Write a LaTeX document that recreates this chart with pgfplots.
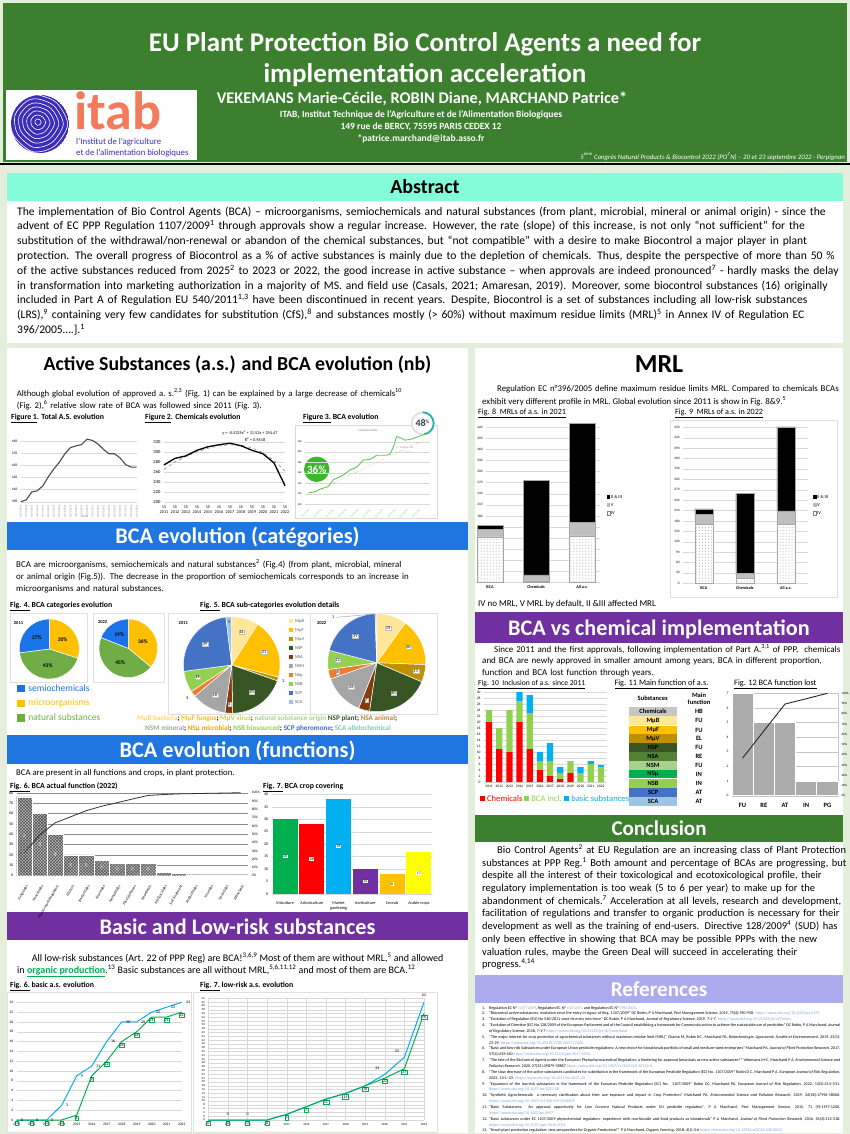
\documentclass[border=0pt]{standalone}
\usepackage{fontspec}
\setmainfont{Carlito}
\usepackage{pgfplots}
\pgfplotsset{compat=1.18}
\usetikzlibrary{patterns}
\setlength{\parindent}{0pt}
\definecolor{pagebg}{HTML}{E3EFDA}
\definecolor{hdr}{HTML}{3C7F2E}
\definecolor{aqua}{HTML}{84FBD9}
\definecolor{bandblue}{HTML}{1F76E0}
\definecolor{bandpurple}{HTML}{7030A0}
\definecolor{lav}{HTML}{ABABEE}
\definecolor{logoblue}{HTML}{3B2DB8}
\definecolor{logoorange}{HTML}{F47A5C}
\definecolor{semio}{HTML}{1A73E8}
\definecolor{micro}{HTML}{FFC000}
\definecolor{natur}{HTML}{70AD47}
\definecolor{cMuB}{HTML}{FFE699}
\definecolor{cMuF}{HTML}{FFC000}
\definecolor{cMuV}{HTML}{BF9000}
\definecolor{cNSP}{HTML}{375623}
\definecolor{cNSA}{HTML}{843C0C}
\definecolor{cNSAt}{HTML}{548235}
\definecolor{cNSM}{HTML}{A5A5A5}
\definecolor{cNSMt}{HTML}{A9D18E}
\definecolor{cNSu}{HTML}{ED7D31}
\definecolor{cNSB}{HTML}{92D050}
\definecolor{cSCP}{HTML}{4472C4}
\definecolor{cSCA}{HTML}{9DC3E6}
\definecolor{xlgreen}{HTML}{00B050}
\definecolor{xlblue}{HTML}{00B0F0}
\definecolor{xlred}{HTML}{FF0000}
\definecolor{xlpurple}{HTML}{7030A0}
\definecolor{xlyellow}{HTML}{FFFF00}
\definecolor{lgreen}{HTML}{92D050}
\definecolor{linkblue}{HTML}{7FA7E0}
\definecolor{gridc}{HTML}{D9D9D9}
\definecolor{bcagreen}{HTML}{5CCB5F}
\definecolor{badgegreen}{HTML}{3DB52E}
\definecolor{tealc}{HTML}{27B3B0}
\newcommand\fs[2]{\fontsize{#1bp}{#2bp}\selectfont}
\newcommand\J[1]{\makebox[\hsize][s]{#1}\par}
\newcommand\Lst[1]{\makebox[\hsize][l]{#1}\par}
\newcommand\sps[1]{\textsuperscript{#1}}
\newcommand\rf[2]{\hangindent=7bp\hangafter=1\makebox[7bp][l]{#1.}#2\par}
\pgfplotsset{
 tinyax/.style={scale only axis, clip=false, axis line style={draw=none}, tick style={draw=none},
   tick label style={font=\fs{4}{4.5}}, /pgf/number format/assume math mode=true,
   /pgf/number format/1000 sep={}, grid style={gridc, line width=0.35bp}},
}
\tikzset{
 lbl/.style={fill=white, inner sep=0.5bp, font=\fs{3.8}{4}},
 pl/.style={fill=white, draw=gray!50, line width=0.2bp, inner sep=0.6bp, font=\fs{4.3}{4.5}},
 pp/.style={font=\bfseries\fs{5.5}{6}},
 po/.style={font=\fs{4.3}{4.5}},
}
% pie: #1 cx, #2 cy (page, y down), #3 r, #4 total, #5 list value/colour/label/radius factor/style
\newcommand\piechart[5]{%
 \begin{scope}[shift={(#1bp,-#2bp)}, x=1bp, y=1bp]
  \gdef\pcum{0}%
  \foreach \pva/\pco/\pla/\prf/\pst in {#5} {%
    \pgfmathsetmacro\paa{90-\pcum/#4*360}%
    \pgfmathsetmacro\pab{90-(\pcum+\pva)/#4*360}%
    \pgfmathsetmacro\pam{(\paa+\pab)/2}%
    \fill[\pco, draw=white, line width=0.5bp] (0,0) -- (\paa:#3) arc[start angle=\paa, end angle=\pab, radius=#3] -- cycle;
    \node[\pst] at (\pam:\prf*#3) {\pla};
    \pgfmathsetmacro\pn{\pcum+\pva}\xdef\pcum{\pn}%
  }
 \end{scope}}
\begin{document}
\begin{tikzpicture}
\useasboundingbox (0,0) rectangle (850bp,-1134bp);
\begin{scope}[x=1bp,y=-1bp]
\fill[pagebg] (0,0) rectangle (850,1134);
% ---------------- header
\fill[hdr] (3,3) rectangle (847,162);
\draw[black, line width=2.5bp] (0,164) -- (850,164);
\node[anchor=base, text=white, font=\bfseries\fs{27}{28}] at (425,51) {EU Plant Protection Bio Control Agents a need for};
\node[anchor=base, text=white, font=\bfseries\fs{27}{28}] at (425,82) {implementation acceleration};
\node[anchor=base, text=white, font=\bfseries\fs{16.3}{17}] at (422,103) {VEKEMANS Marie-Cécile, ROBIN Diane, MARCHAND Patrice*};
\node[anchor=base, text=white, font=\bfseries\fs{9.5}{10}] at (421,117) {ITAB, Institut Technique de l’Agriculture et de l’Alimentation Biologiques};
\node[anchor=base, text=white, font=\bfseries\fs{9.5}{10}] at (421,129) {149 rue de BERCY, 75595 PARIS CEDEX 12};
\node[anchor=base, text=white, font=\bfseries\fs{9.5}{10}] at (421,141) {*patrice.marchand@itab.asso.fr};
\node[anchor=base east, text=white, font=\itshape\fs{6.8}{7}, inner sep=0] at (845,159) {5\sps{ème} Congrès Natural Products \& Biocontrol 2022 (PO\sps{2}N) – 20 et 23 septembre 2022 - Perpignan};
% logo
\fill[white] (6,90) rectangle (197,160);
\begin{scope}
\clip (40,124) circle (29);
\fill[logoblue] (40,124) circle (29);
\foreach \s in {0.15,0.35,0.55,0.75,0.95,1.15,1.35,1.55} {
 \begin{scope}[shift={(38,122)}, scale=\s]
 \draw[white, line width=0.6bp] plot[smooth cycle] coordinates {(0,-20)(14,-14)(22,2)(12,18)(-4,22)(-18,10)(-20,-6)(-10,-18)};
 \end{scope}}
\end{scope}
\node[anchor=base west, text=logoorange, font=\bfseries\fs{54}{54}, inner sep=0] at (74,129) {itab};
\node[anchor=base west, text=logoblue, font=\fs{8.8}{9}, inner sep=0] at (76,144.5) {l’Institut de l’agriculture};
\node[anchor=base west, text=logoblue, font=\fs{8.8}{9}, inner sep=0] at (76,155.5) {et de l’alimentation biologiques};
% ---------------- abstract
\fill[aqua] (7,173) rectangle (843,201);
\fill[white] (7,201) rectangle (843,343);
\node[font=\bfseries\fs{20}{22}] at (425,187) {Abstract};
\node[anchor=north west, inner sep=0, text width=819bp, font=\fs{11.6}{14.8}] at (17,206.5) {%
\J{The implementation of Bio Control Agents (BCA) – microorganisms, semiochemicals and natural substances (from plant, microbial, mineral or animal origin) - since the}
\J{advent of EC PPP Regulation 1107/2009\sps{1} through approvals show a regular increase. However, the rate (slope) of this increase, is not only “not sufficient” for the}
\J{substitution of the withdrawal/non-renewal or abandon of the chemical substances, but “not compatible” with a desire to make Biocontrol a major player in plant}
\J{protection. The overall progress of Biocontrol as a \% of active substances is mainly due to the depletion of chemicals. Thus, despite the perspective of more than 50 \%}
\J{of the active substances reduced from 2025\sps{2} to 2023 or 2022, the good increase in active substance – when approvals are indeed pronounced\sps{7} - hardly masks the delay}
\J{in transformation into marketing authorization in a majority of MS. and field use (Casals, 2021; Amaresan, 2019). Moreover, some biocontrol substances (16) originally}
\J{included in Part A of Regulation EU 540/2011\sps{1,3} have been discontinued in recent years. Despite, Biocontrol is a set of substances including all low-risk substances}
\J{(LRS),\sps{9} containing very few candidates for substitution (CfS),\sps{8} and substances mostly (> 60\%) without maximum residue limits (MRL)\sps{5} in Annex IV of Regulation EC}
\Lst{396/2005….].\sps{1}}};
% ---------------- panels
\fill[white] (7,348) rectangle (468,1133);
\fill[white] (475,348) rectangle (843,1133);
% ======== LEFT COLUMN
\node[anchor=base, font=\bfseries\fs{19.8}{23}] at (237.5,370) {Active Substances (a.s.) and BCA evolution (nb)};
\node[anchor=north west, inner sep=0, text width=408bp, font=\fs{8.7}{12}] at (16.7,388.5) {%
\J{Although global evolution of approved a.\ s.\sps{2,3} (Fig.\ 1) can be explained by a large decrease of chemicals\sps{10}}
\Lst{(Fig.\ 2),\sps{6} relative slow rate of BCA was followed since 2011 (Fig.\ 3).}};
\node[anchor=base west, font=\bfseries\fs{7.8}{8}, inner sep=0] at (11,419) {\underline{Figure 1}. Total A.S. evolution};
\node[anchor=base west, font=\bfseries\fs{7.8}{8}, inner sep=0] at (145,419) {\underline{Figure 2}. Chemicals evolution};
\node[anchor=base west, font=\bfseries\fs{7.8}{8}, inner sep=0] at (303,419) {\underline{Figure 3.} BCA evolution};
\node[font=\fs{3}{3}, gray] at (85,516.5) {Titre};
\node[font=\fs{4.3}{5}] at (250,433) {y = -0.5329x\sps{2} + 11.52x + 254.47};
\node[font=\fs{4.3}{5}] at (255,439.5) {R\sps{2} = 0.9618};
\draw[gray!30, line width=0.4bp] (295,425) rectangle (437,518);
\node[font=\fs{3}{3}, gray] at (368,430) {Sub Biocontrôle};
\node[font=\fs{2.4}{2.6}, gray, align=center] at (405,450) {y = 0.0062x - 254\\R\sps{2} = 0.9640};
% section 2
\fill[bandblue] (7,522) rectangle (468,550);
\node[anchor=base, text=white, font=\bfseries\fs{22.3}{24}] at (237.5,543.5) {BCA evolution (catégories)};
\node[anchor=north west, inner sep=0, text width=420bp, font=\fs{8.9}{12}] at (16,559.5) {%
\J{BCA are microorganisms, semiochemicals and natural substances\sps{2} (Fig.4) (from plant, microbial, mineral}
\J{or animal origin (Fig.5)). The decrease in the proportion of semiochemicals corresponds to an increase in}
\Lst{microorganisms and natural substances.}};
\node[anchor=base west, font=\bfseries\fs{7.8}{8}, inner sep=0] at (10,607) {\underline{Fig. 4.} BCA categories evolution};
\node[anchor=base west, font=\bfseries\fs{7.8}{8}, inner sep=0] at (200,607) {\underline{Fig. 5.} BCA sub-categories evolution details};
\draw[gray!25, line width=0.4bp] (10,612.7) rectangle (87.3,681.7);
\draw[gray!25, line width=0.4bp] (93.3,612.7) rectangle (164.3,681.7);
\draw[gray!25, line width=0.4bp] (168.3,612.7) rectangle (310,714);
\draw[gray!25, line width=0.4bp] (310,612.7) rectangle (436.7,714);
\node[font=\bfseries\fs{4.5}{5}] at (18.5,622.7) {2011};
\node[font=\bfseries\fs{4.5}{5}] at (102.7,621.7) {2022};
\node[font=\bfseries\fs{4.5}{5}] at (183.3,623.3) {2011};
\node[font=\bfseries\fs{4.5}{5}] at (321.7,623.3) {2022};
\foreach \nm/\cc/\yy in {semiochemicals/semio/688.3, microorganisms/micro/703.3, natural substances/natur/717.7} {
 \fill[\cc] (17.3,\yy-3.8) rectangle (25,\yy+3.8);
 \node[anchor=west, text=\cc, font=\fs{9.5}{10}, inner sep=0] at (28.3,\yy) {\nm};}
\foreach \nm/\cc/\yy in {MµB/cMuB/621, MµF/cMuF/630, MµV/cMuV/639, NSP/cNSP/648, NSA/cNSA/657, NSM/cNSM/666, NSµ/cNSu/675, NSB/cNSB/684, SCP/cSCP/693, SCA/cSCA/702} {
 \fill[\cc] (288.5,\yy-2) rectangle (292.5,\yy+2);
 \node[anchor=west, font=\fs{4.5}{5}, inner sep=0, text=gray!70!black] at (295,\yy) {\nm};}
\node[anchor=base west, inner sep=0, font=\bfseries\fs{7.2}{8}] at (137,720) {\textcolor[HTML]{FFD966}{MµB bacteria}; \textcolor{cMuF}{MµF fungus}; \textcolor[HTML]{C9CC55}{MµV virus}; \textcolor[HTML]{A9D18E}{natural substance origin} \textcolor{cNSP}{NSP plant}; \textcolor[HTML]{C0843C}{NSA animal};};
\node[anchor=base west, inner sep=0, font=\bfseries\fs{7.2}{8}] at (145,730.5) {\textcolor{cNSM}{NSM mineral}; \textcolor[HTML]{F4A300}{NSµ microbial}; \textcolor{cNSB}{NSB biosourced}; \textcolor[HTML]{2F6FE8}{SCP pheromone}; \textcolor[HTML]{6FD2B8}{SCA allelochemical}};
% section 3
\fill[bandblue] (7,735) rectangle (468,764);
\node[anchor=base, text=white, font=\bfseries\fs{22.3}{24}] at (237.5,757) {BCA evolution (functions)};
\node[anchor=base west, inner sep=0, font=\fs{8.7}{12}] at (16,775) {BCA are present in all functions and crops, in plant protection.};
\node[anchor=base west, font=\bfseries\fs{7.8}{8}, inner sep=0] at (10,788) {\underline{Fig. 6.} BCA actual function (2022)};
\node[anchor=base west, font=\bfseries\fs{7.8}{8}, inner sep=0] at (263,788) {\underline{Fig. 7.} BCA crop covering};
% section 4
\fill[bandpurple] (7,912) rectangle (468,940);
\node[anchor=base, text=white, font=\bfseries\fs{22.3}{24}] at (237.5,934) {Basic and Low-risk substances};
\node[anchor=base west, inner sep=0, font=\fs{10}{12}] at (31.7,961) {All low-risk substances (Art. 22 of PPP Reg) are BCA!\sps{3,6,9} Most of them are without MRL,\sps{5} and allowed};
\node[anchor=base west, inner sep=0, font=\fs{10}{12}] at (17,973) {in \textcolor{xlgreen}{\bfseries\underline{organic production}}.\sps{13} Basic substances are all without MRL,\sps{5,6,11,12} and most of them are BCA.\sps{12}};
\node[anchor=base west, font=\bfseries\fs{7.8}{8}, inner sep=0] at (10,987) {\underline{Fig. 6.} basic a.s. evolution};
\node[anchor=base west, font=\bfseries\fs{7.8}{8}, inner sep=0] at (200,987) {\underline{Fig. 7.} low-risk a.s. evolution};
\draw[gray!25, line width=0.4bp] (7.3,992.3) rectangle (190.7,1131.7);
\draw[gray!25, line width=0.4bp] (192.7,992.3) rectangle (436.7,1131.7);
% ======== RIGHT COLUMN
\node[anchor=base, font=\bfseries\fs{26}{28}] at (659,372) {MRL};
\node[anchor=north west, inner sep=0, text width=341bp, font=\fs{8.8}{12}] at (497,385.5) {%
\J{Regulation EC n°396/2005 define maximum residue limits MRL. Compared to chemicals BCAs}};
\node[anchor=base west, inner sep=0, font=\fs{8.8}{12}] at (482,404.5) {exhibit very different profile in MRL. Global evolution since 2011 is show in Fig. 8\&9.\sps{5}};
\node[anchor=base west, inner sep=0, font=\fs{8.1}{9}] at (478,414) {\underline{Fig. 8\ \ MRLs of a.s. in 2021}};
\node[anchor=base west, inner sep=0, font=\fs{8.1}{9}] at (675,414) {\underline{Fig. 9\ \ MRLs of a.s. in 2022}};
\draw[gray!25, line width=0.4bp] (670,420) rectangle (837,597);
\foreach \fx in {606.7,813} {
 \fill[black] (\fx,495) rectangle (\fx+3.5,498.5);
 \node[anchor=west, inner sep=0, font=\fs{4.6}{5}] at (\fx+4,496.7) {II \& III};
 \fill[gray!55] (\fx,503.2) rectangle (\fx+3.5,506.7);
 \node[anchor=west, inner sep=0, font=\fs{4.6}{5}] at (\fx+4,505) {V};
 \draw[gray, line width=0.3bp] (\fx,511.2) rectangle (\fx+3.5,514.7);
 \node[anchor=west, inner sep=0, font=\fs{4.6}{5}] at (\fx+4,513) {IV};}
\node[anchor=base west, inner sep=0, font=\fs{9}{10}] at (478,606) {IV no MRL, V MRL by default, II \&III affected MRL};
\fill[bandpurple] (475,612) rectangle (843,643);
\node[anchor=base, text=white, font=\bfseries\fs{22.2}{24}] at (659,635) {BCA vs chemical implementation};
\node[anchor=north west, inner sep=0, text width=356bp, font=\fs{9}{11.8}] at (482,644) {%
\J{\hspace*{12bp}Since 2011 and the first approvals, following implementation of Part A.\sps{3,1} of PPP,\ \ chemicals}
\J{and BCA are newly approved in smaller amount among years, BCA in different proportion,}
\Lst{function and BCA lost function through years.}};
\node[anchor=base west, inner sep=0, font=\fs{7.6}{9}] at (478,685.5) {\underline{Fig. 10\ \ Inclusion of a.s. since 2011}};
\node[anchor=base west, inner sep=0, font=\fs{8.3}{9}] at (614.3,685.5) {\underline{Fig. 11 Main function of a.s.}};
\node[anchor=base west, inner sep=0, font=\fs{8.3}{9}] at (734,685.5) {\underline{Fig. 12 BCA function lost}};
\node[anchor=base west, inner sep=0, font=\fs{8.6}{9}] at (480,801) {\textcolor{xlred}{\rule{5bp}{5bp} Chemicals} \textcolor{lgreen}{\rule{5bp}{5bp} BCA incl.} \textcolor{xlblue}{\rule{5bp}{5bp} basic substances}};
% Fig 11 table
\node[font=\bfseries\fs{6.5}{7}] at (652.7,698.3) {Substances};
\node[font=\bfseries\fs{6.5}{7.5}, align=center] at (699,698.5) {Main\\function};
\foreach \lab/\col/\fn/\y in {Chemicals/gray!45/HB/711.7, MµB/cMuB/FU/720.7, MµF/cMuF/FU/730, MµV/cMuV/EL/738.7, NSP/cNSP/FU/747.3, NSA/cNSAt/RE/756.3, NSM/cNSMt/FU/765.3, NSµ/xlgreen/IN/774, NSB/cNSB/IN/783.3, SCP/cSCP/AT/792.3, SCA/cSCA/AT/801.3} {
 \fill[\col] (629,\y-4.4) rectangle (677,\y+4.4);
 \node[font=\bfseries\fs{6.5}{7}] at (653,\y) {\lab};
 \node[font=\bfseries\fs{6.5}{7}] at (699,\y) {\fn};}
% conclusion
\fill[hdr] (475,815) rectangle (843,842);
\node[anchor=base, text=white, font=\bfseries\fs{21}{23}] at (659,835.5) {Conclusion};
\node[anchor=north west, inner sep=0, text width=356bp, font=\fs{10.5}{12.7}] at (482,844.5) {%
\J{\hspace*{15bp}Bio Control Agents\sps{2} at EU Regulation are an increasing class of Plant Protection}
\J{substances at PPP Reg.\sps{1} Both amount and percentage of BCAs are progressing, but}
\J{despite all the interest of their toxicological and ecotoxicological profile, their}
\J{regulatory implementation is too weak (5 to 6 per year) to make up for the}
\J{abandonment of chemicals.\sps{7} Acceleration at all levels, research and development,}
\J{facilitation of regulations and transfer to organic production is necessary for their}
\J{development as well as the training of end-users. Directive 128/2009\sps{4} (SUD) has}
\J{only been effective in showing that BCA may be possible PPPs with the new}
\J{valuation rules, maybe the Green Deal will succeed in accelerating their}
\Lst{progress.\sps{4,14}}};
% references
\fill[lav] (475,975) rectangle (843,1003);
\node[anchor=base, text=white, font=\bfseries\fs{21.2}{23}] at (659,996) {References};
\node[anchor=north west, inner sep=0, text width=358bp, font=\fs{4.1}{5.85}, align=justify] at (482,1006) {\sloppy
\rf{1}{Regulation EC N° \textcolor{linkblue}{1107/2009}, Regulation EC N° \textcolor{linkblue}{540/2011} and Regulation EC N° \textcolor{linkblue}{396/2005}.}
\rf{2}{“Biocontrol active substances: evolution since the entry in vigour of Reg. 1107/2009” DC Robin, P A Marchand, \textit{Pest Management Science}, 2019, 75(4):950-958. \textcolor{linkblue}{https://www.doi.org/10.1002/ps.5199}}
\rf{3}{“Evolution of Regulation (EU) No 540/2011 since its entry into force” DC Robin, P A Marchand, \textit{Journal of Regulatory Science}, 2019, 7:1-7. \textcolor{linkblue}{https://www.doi.org/10.21423/jrs-v07robin}}
\rf{4}{“Evolution of Directive (EC) No 128/2009 of the European Parliament and of the Council establishing a framework for Community action to achieve the sustainable use of pesticides” DC Robin, P A Marchand, \textit{Journal of Regulatory Science}, 2018, 7:1-7 \textcolor{linkblue}{https://www.doi.org/10.21423/jrs-v07marchand}}
\rf{5}{“The major interest for crop protection of agrochemical substances without maximum residue limit (MRL)” Charon M, Robin DC , Marchand PA, \textit{Biotechnologie, Agronomie, Société et Environnement}, 2019, 23(1): 22-29. \textcolor{linkblue}{https://www.doi.org/10.25518/1780-4507.17660}}
\rf{6}{“Basic and low-risk Substances under European Union pesticide regulations: A new choice for biorationals portfolio of small and medium-sized enterprises” Marchand PA, \textit{Journal of Plant Protection Research}, 2017, 57(4):433-440 \textcolor{linkblue}{https://www.doi.org/10.1515/jppr-2017-0056}}
\rf{7}{“The fate of the BioControl Agents under the European Phytopharmaceutical Regulation: a hindering for approval botanicals as new active substances?” Vekemans M-C, Marchand P A, \textit{Environmental Science and Pollution Research}, 2020, 27(32):39879-39887 \textcolor{linkblue}{https://www.doi.org/10.1007/s11356-020-10114-6}}
\rf{8}{“The slow decrease of the active substances candidates for substitution in the framework of the European Pesticide Regulation (EC) No. 1107/2009” Robin D C, Marchand P A, \textit{European Journal of Risk Regulation}, 2022, 13:1–23. \textcolor{linkblue}{https://www.doi.org/10.1017/err.2021.20}}
\rf{9}{“Expansion of the low-risk substances in the framework of the European Pesticide Regulation (EC) No. 1107/2009” Robin DC, Marchand PA, \textit{European Journal of Risk Regulation}, 2022, 13(3):514–531. \textcolor{linkblue}{https://www.doi.org/10.1017/err.2021.58}}
\rf{10}{“Synthetic Agrochemicals: a necessary clarification about their use exposure and impact in Crop Protection” Marchand PA, \textit{Environmental Science and Pollution Research}, 2019, 26(18):17996-18000. \textcolor{linkblue}{https://www.doi.org/10.1007/s11356-019-05368-8}}
\rf{11}{“Basic Substances: An approval opportunity for Low Concern Natural Products under EU pesticide regulation”, P A Marchand, \textit{Pest Management Science}, 2015, 71 (9):1197-1200. \textcolor{linkblue}{https://www.doi.org/10.1002/ps.3997}}
\rf{12}{“Basic substances under EC 1107/2009 phytochemical regulation: experience with non-biocide and food products as biorationals” P A Marchand, \textit{Journal of Plant Protection Research}, 2016, 56(3):312-318. \textcolor{linkblue}{https://www.doi.org/10.1515/jppr-2016-0041}}
\rf{13}{“Novel plant protection regulation: new perspectives for Organic Production?” P A Marchand, \textit{Organic Farming}, 2018, 4(1):3-6 \textcolor{linkblue}{https://www.doi.org/10.12924/of2018.04010003}}};
\end{scope}

% ================= PIES
\piechart{49.3}{649}{30}{100}{30/micro/30\%/0.55/pp, 43/natur/43\%/0.55/pp, 27/semio/27\%/0.55/pp}
\piechart{128.3}{648.3}{29.3}{100}{36/micro/36\%/0.55/pp, 45/natur/45\%/0.55/pp, 19/semio/19\%/0.55/pp}
\piechart{231.7}{665}{48.3}{155}{14/cMuB/14/0.72/pl, 31/cMuF/31/0.72/pl, 2/cMuV/2/1.12/po, 30/cNSP/30/0.7/pl, 4/cNSA/4/0.82/pl, 18/cNSM/18/0.72/pl, 3/cNSu/3/1.15/po, 11/cNSB/11/0.75/pl, 39/cSCP/39/0.7/pl, 3/cSCA/3/0.9/po}
\piechart{376.7}{662.7}{49}{191}{19/cMuB/19/0.75/pl, 30/cMuF/30/0.72/pl, 11/cMuV/11/0.82/pl, 40/cNSP/40/0.7/pl, 7/cNSA/7/0.8/pl, 26/cNSM/26/0.72/pl, 6/cNSu/6/0.82/pl, 12/cNSB/12/0.8/pl, 39/cSCP/39/0.7/pl, 1/cSCA/{}/1/po}
\begin{scope}[x=1bp,y=-1bp]
\draw[gray, line width=0.3bp] (336,617.3) -- (375.5,614);
\node[po] at (333.3,617.3) {1};
% badges
\fill[badgegreen] (316.7,469.3) circle (12.7);
\node[text=white, font=\bfseries\fs{11}{12}] at (316.7,469.5) {36\%};
\fill[white] (422.7,423.3) circle (12.5);
\draw[gray!25, line width=1.8bp] (422.7,423.3) circle (11);
\end{scope}
\begin{scope}[x=1bp,y=1bp]
\draw[tealc, line width=1.8bp] (422.7,-412.3) arc[start angle=90, end angle=-82.8, radius=11];
\end{scope}
\begin{scope}[x=1bp,y=-1bp]
\node[text=gray!50!black, font=\bfseries\fs{10}{11}] at (422.7,423.5) {48\textsuperscript{\fs{5}{5}\%}};
\end{scope}

% ================= FIG 1
\begin{axis}[tinyax, at={(20.7bp,-441bp)}, anchor=north west, width=116bp, height=60.7bp,
 xmin=1, xmax=22, ymin=398, ymax=498, ytick={398,418,...,498}, ymajorgrids,
 xtick={1,...,22}, xticklabel={15/01/2011}, xticklabel style={rotate=90, anchor=east, font=\fs{2.6}{3}, gray},
 yticklabel style={font=\fs{3.5}{4}}]
\addplot[line width=1.1bp, black!70] coordinates {(1,398)(2,401)(3,414)(4,416)(5,424)(6,439)(7,452)(8,463)(9,477)(10,487)(11,490)(12,492)(13,501)(14,499)(15,493)(16,484)(17,477)(18,477)(19,470)(20,459)(21,455)(22,455)};
\end{axis}
% ================= FIG 2
\begin{axis}[tinyax, at={(164bp,-441.7bp)}, anchor=north west, width=121bp, height=60.6bp,
 xmin=2011, xmax=2022, ymin=200, ymax=320, ytick={200,220,...,320}, ymajorgrids,
 xtick={2011,...,2022}, xticklabels={{15\\2011},{15\\2012},{15\\2013},{15\\2014},{15\\2015},{15\\2016},{15\\2017},{15\\2018},{15\\2019},{15\\2020},{15\\2021},{15\\2022}},
 xticklabel style={align=center, font=\fs{4.2}{5.2}}, yticklabel style={font=\fs{4.6}{5}}]
\addplot[dashed, gray, line width=0.6bp] coordinates {(2011,265)(2012,280)(2013,291)(2014,300)(2015,307)(2016,312)(2017,314)(2018,313)(2019,308)(2020,298)(2021,283)(2022,262)};
\addplot[black, line width=1.3bp] coordinates {(2011,274)(2012,287)(2013,292)(2014,303)(2015,310)(2016,314)(2017,317)(2018,312)(2019,303)(2020,296)(2021,278)(2022,233)};
\end{axis}
% ================= FIG 3
\begin{axis}[tinyax, at={(305bp,-441.7bp)}, anchor=north west, width=125bp, height=62.6bp,
 xmin=915, xmax=1290, ymin=100, ymax=220, ytick={100,120,...,220}, ymajorgrids,
 xtick={925,962,...,1280}, xticklabel={01/01/2015}, xticklabel style={rotate=45, anchor=north east, font=\fs{2.2}{2.4}, bcagreen},
 yticklabel style={font=\fs{2.6}{3}}]
\addplot[orange!70, dotted, line width=0.6bp] coordinates {(925,118)(1280,226)};
\addplot[bcagreen, line width=0.9bp] coordinates {(925,122)(945,124)(960,129)(985,134)(1000,147)(1030,156)(1050,166)(1070,171)(1090,185)(1110,186)(1130,194)(1160,194)(1170,196)(1180,210)(1190,230)(1200,228)(1215,223)(1235,225)(1255,230)(1280,235)};
\end{axis}
% ================= FIG 6 functions
\begin{axis}[tinyax, at={(16.7bp,-792.7bp)}, anchor=north west, width=231.6bp, height=83bp,
 ymin=0, ymax=80, ytick={0,10,...,80}, ymajorgrids, grid style={black!45, line width=0.4bp},
 xmin=0.5, xmax=15.5, xtick={1,...,15},
 xticklabels={Fungicides,Insecticides,Plant Growth Regulators,Elicitors,Bactericides,Acaricides,Nematicides,Plant defences,Repellents,Molluscicides,Soil treatment,Rodenticides,Virucides,Herbicides,Attractants},
 xticklabel style={rotate=60, anchor=north east, font=\fs{3.8}{4}},
 ybar, bar width=1, bar shift=0pt]
\addplot[fill=gray!55, draw=white, line width=0.3bp, postaction={pattern=crosshatch, pattern color=black!70}] coordinates {(1,76)(2,60)(3,40)(4,20)(5,20)(6,15)(7,12)(8,12)(9,12)(10,3)(11,2)(12,1)(13,1)(14,1)(15,1)};
\foreach \i/\v in {1/76,2/60,3/40,4/20,5/20,6/15,7/12,8/12,9/12} {\edef\tmp{\noexpand\node[rotate=90, font=\noexpand\fs{3.8}{4}, text=white] at (axis cs:\i,\v/2) {\v};}\tmp}
\end{axis}
\begin{axis}[tinyax, at={(16.7bp,-792.7bp)}, anchor=north west, width=231.6bp, height=83bp,
 ymin=0, ymax=100, ytick={0,10,...,100}, yticklabel={\pgfmathprintnumber{\tick}\%}, yticklabel pos=right,
 xmin=0.5, xmax=15.5, hide x axis, yticklabel style={font=\fs{3.6}{4}}]
\addplot[black!80, line width=0.8bp] coordinates {(1,27.5)(2,49.3)(3,63.8)(4,71.0)(5,78.3)(6,83.7)(7,88.0)(8,92.4)(9,96.7)(10,97.8)(11,98.6)(12,98.9)(13,99.3)(14,99.6)(15,100)};
\end{axis}
% ================= FIG 7 crops
\begin{axis}[tinyax, at={(271.7bp,-794.3bp)}, anchor=north west, width=160.6bp, height=99.7bp,
 ymin=0, ymax=40, ytick={0,5,...,40}, ymajorgrids,
 xmin=0.5, xmax=6.5, xtick={1,...,6}, xticklabels={Viticulture,Arboriculture,{Market\\gardening},horticulture,Cereals,Arable crops},
 xticklabel style={align=center, font=\fs{4.2}{5}, anchor=north}, ybar, bar width=0.94, bar shift=0pt]
\addplot[fill=xlgreen, draw=none] coordinates {(1,30)};
\addplot[fill=xlred, draw=none] coordinates {(2,28)};
\addplot[fill=xlblue, draw=none] coordinates {(3,38)};
\addplot[fill=xlpurple, draw=none] coordinates {(4,10)};
\addplot[fill=micro, draw=none] coordinates {(5,8)};
\addplot[fill=xlyellow, draw=none] coordinates {(6,17)};
\node[lbl] at (axis cs:1,15) {30};
\node[lbl] at (axis cs:2,14) {28};
\node[lbl] at (axis cs:3,19) {38};
\node[lbl] at (axis cs:4,5) {10};
\node[lbl] at (axis cs:5,4) {8};
\node[lbl] at (axis cs:6,8.5) {17};
\end{axis}
% ================= basic a.s.
\begin{axis}[tinyax, at={(16.7bp,-1002.3bp)}, anchor=north west, width=165bp, height=117.7bp,
 xmin=2011, xmax=2022, ymin=0, ymax=24, ytick={0,2,...,24}, xtick={2011,...,2022}, ymajorgrids,
 tick label style={font=\fs{3.6}{4}}]
\addplot[xlblue, line width=1bp, nodes near coords, every node near coord/.append style={font=\fs{4}{4}, anchor=west, text=black, xshift=0.5bp}] coordinates {(2011,0)(2012,0)(2013,0)(2014,3)(2015,9)(2016,11)(2017,16)(2018,20)(2019,20)(2020,22)(2021,23)(2022,24)};
\addplot[xlgreen, line width=1bp, nodes near coords, every node near coord/.append style={font=\fs{4}{4}, anchor=north, text=black, fill=white, draw=xlgreen, line width=0.5bp, inner sep=0.8bp, yshift=-1bp}] coordinates {(2011,0)(2012,0)(2013,0)(2014,0)(2015,1)(2016,9)(2017,12)(2018,16)(2019,18)(2020,21)(2021,21)(2022,22)};
\end{axis}
% ================= low-risk a.s.
\begin{axis}[tinyax, at={(208.3bp,-998.3bp)}, anchor=north west, width=215.7bp, height=121.7bp,
 xmin=2011, xmax=2022, ymin=0, ymax=64, ytick={0,2,...,64}, xtick={2011,...,2022}, ymajorgrids, xmajorgrids, minor x tick num=3, xminorgrids,
 minor grid style={gridc!60, line width=0.3bp}, tick label style={font=\fs{3}{3.2}}]
\addplot[xlblue, line width=1bp] coordinates {(2011,0)(2012,0)(2013,0)(2014,0)(2015,3)(2016,7)(2017,11)(2018,14)(2019,18)(2020,24)(2021,33)(2022,62)};
\addplot[xlgreen, line width=1bp, nodes near coords, every node near coord/.append style={font=\fs{4}{4}, anchor=north, text=black, fill=white, draw=xlgreen, line width=0.5bp, inner sep=0.8bp, yshift=-1bp}] coordinates {(2011,0)(2012,0)(2013,0)(2014,0)(2015,3)(2016,7)(2017,11)(2018,14)(2019,18)(2020,22)(2021,27)(2022,56)};
\node[font=\fs{4}{4}] at (axis cs:2012,3) {0};
\node[font=\fs{4}{4}] at (axis cs:2013,3) {0};
\node[font=\fs{4}{4}, anchor=east] at (axis cs:2019.9,27) {24};
\node[font=\fs{4}{4}, anchor=east] at (axis cs:2020.9,36) {33};
\node[font=\fs{4}{4}, anchor=south] at (axis cs:2022,63) {62};
\end{axis}
% ================= FIG 8
\begin{axis}[tinyax, at={(486bp,-427.3bp)}, anchor=north west, width=114bp, height=155bp,
 ybar stacked, bar width=0.56, xmin=0.913, xmax=3.39, ymin=0, ymax=420, ytick={0,30,...,420}, ymajorgrids,
 xtick={1,2,3}, xticklabels={BCA,Chemicals,All a.s.}, xticklabel style={font=\bfseries\fs{4.2}{5}}, yticklabel style={font=\fs{3.4}{4}}]
\addplot[fill=white, draw=gray!70, line width=0.3bp, postaction={pattern=dots, pattern color=gray!80}] coordinates {(1,123)(2,4)(3,126)};
\addplot[fill=gray!50, draw=gray!70, line width=0.3bp] coordinates {(1,20)(2,16)(3,36)};
\addplot[fill=black, draw=gray!70, line width=0.3bp] coordinates {(1,11)(2,257)(3,268)};
\node[lbl] at (axis cs:1,61) {123}; \node[lbl] at (axis cs:1,133) {20}; \node[lbl] at (axis cs:1,148.5) {11};
\node[lbl] at (axis cs:2,12) {16}; \node[lbl] at (axis cs:2,148) {257};
\node[lbl] at (axis cs:3,63) {126}; \node[lbl] at (axis cs:3,144) {36}; \node[lbl] at (axis cs:3,296) {268};
\end{axis}
% ================= FIG 9
\begin{axis}[tinyax, at={(683bp,-427.3bp)}, anchor=north west, width=125bp, height=156bp,
 ybar stacked, bar width=0.44, xmin=0.49, xmax=3.54, ymin=0, ymax=450, ytick={0,30,...,450}, ymajorgrids,
 xtick={1,2,3}, xticklabels={BCA,Chemicals,All a.s.}, xticklabel style={font=\bfseries\fs{4.2}{5}}, yticklabel style={font=\fs{3.4}{4}}]
\addplot[fill=white, draw=gray!70, line width=0.3bp, postaction={pattern=dots, pattern color=gray!80}] coordinates {(1,170)(2,15)(3,171)};
\addplot[fill=gray!50, draw=gray!70, line width=0.3bp] coordinates {(1,29)(2,14)(3,38)};
\addplot[fill=black, draw=gray!70, line width=0.3bp] coordinates {(1,16)(2,231)(3,242)};
\node[lbl] at (axis cs:1,85) {170}; \node[lbl] at (axis cs:1,184.5) {29}; \node[lbl] at (axis cs:1,207) {16};
\node[lbl] at (axis cs:2,7.5) {15}; \node[lbl] at (axis cs:2,22) {14}; \node[lbl] at (axis cs:2,144.5) {231};
\node[lbl] at (axis cs:3,85.5) {171}; \node[lbl] at (axis cs:3,190) {38}; \node[lbl] at (axis cs:3,330) {242};
\end{axis}
% ================= FIG 10
\begin{axis}[tinyax, at={(484bp,-692bp)}, anchor=north west, width=123bp, height=90bp,
 ybar stacked, bar width=0.62, xmin=2010.5, xmax=2022.6, ymin=0, ymax=30, ytick={0,2,...,30}, ymajorgrids,
 xtick={2011,...,2022}, tick label style={font=\fs{3.6}{4}}]
\addplot[fill=xlred, draw=none] coordinates {(2011,20)(2012,11)(2013,10)(2014,20)(2015,11)(2016,4)(2017,2)(2018,1)(2019,3)(2020,0)(2021,0)(2022,0)};
\addplot[fill=lgreen, draw=none] coordinates {(2011,4)(2012,7)(2013,14)(2014,7)(2015,12)(2016,3)(2017,5)(2018,2)(2019,4)(2020,3)(2021,6)(2022,5)};
\addplot[fill=xlblue, draw=none] coordinates {(2011,0)(2012,0)(2013,0)(2014,3)(2015,6)(2016,3)(2017,6)(2018,2)(2019,0)(2020,2)(2021,1)(2022,0.6)};
\end{axis}
% ================= FIG 12
\begin{axis}[tinyax, at={(732bp,-693.3bp)}, anchor=north west, width=106bp, height=102.4bp,
 ybar, bar width=1, bar shift=0pt, xmin=0.5, xmax=5.5, ymin=0, ymax=7, ytick={0,...,7}, ymajorgrids, grid style={gray!45, line width=0.35bp},
 axis line style={draw=gray!45, line width=0.35bp}, xtick={1,...,5}, xticklabels={FU,RE,AT,IN,PG}, xticklabel style={font=\bfseries\fs{6.5}{7}}, yticklabel style={font=\fs{3.6}{4}}]
\addplot[fill=gray!65, draw=white, line width=1bp] coordinates {(1,7)(2,5)(3,5)(4,1)(5,1)};
\end{axis}
\begin{axis}[tinyax, at={(732bp,-693.3bp)}, anchor=north west, width=106bp, height=102.4bp,
 ymin=0, ymax=100, ytick={0,10,...,100}, yticklabel={\pgfmathprintnumber{\tick}\%}, yticklabel pos=right,
 xmin=0.5, xmax=5.5, hide x axis, yticklabel style={font=\fs{3.2}{3.5}}]
\addplot[black!85, line width=0.9bp] coordinates {(1,36.8)(2,63.2)(3,89.5)(4,94.7)(5,100)};
\end{axis}
\end{tikzpicture}
\end{document}
